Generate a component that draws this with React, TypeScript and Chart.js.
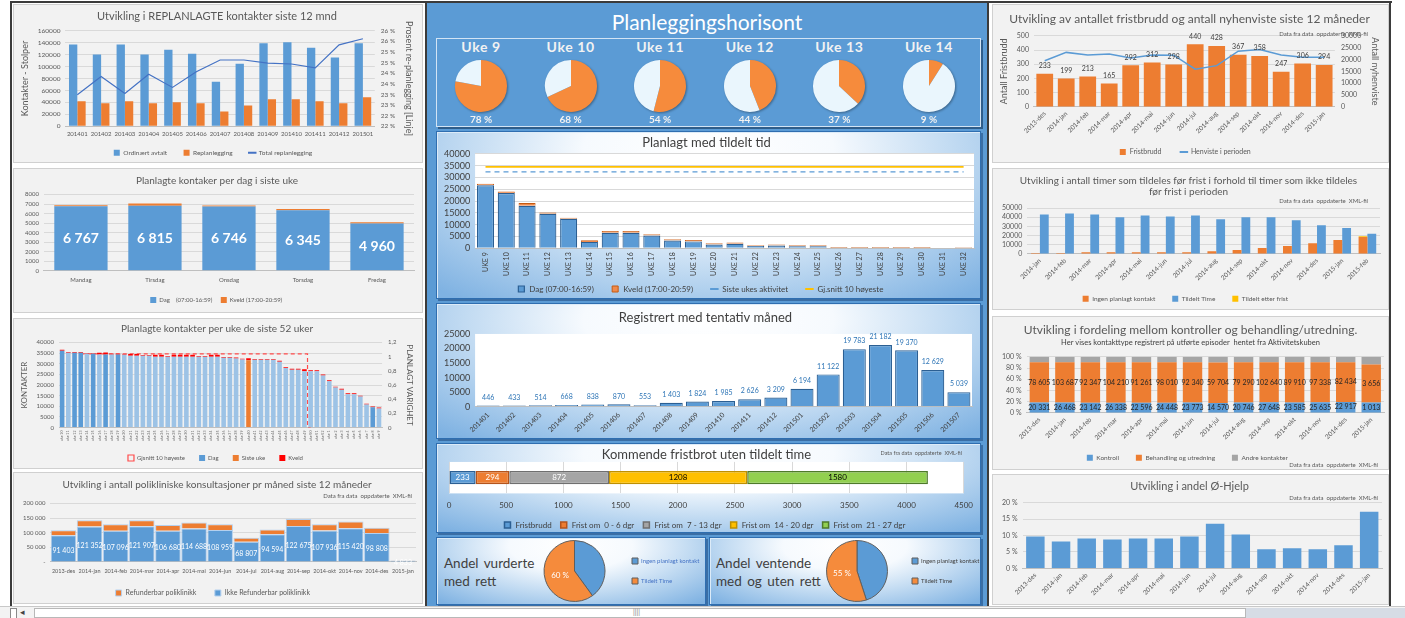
import React, { useEffect, useRef } from 'react';
import { Chart, registerables } from 'chart.js';

Chart.register(...registerables);

const FONT = 'Lato, "Open Sans", "DejaVu Sans", sans-serif';
(Chart.defaults as any).font.family = FONT;
(Chart.defaults as any).color = '#595959';
(Chart.defaults as any).animation = false;

// ---------------- DATA ----------------
// Left 1: replanlagte kontakter
const L1_MONTHS = ['201401', '201402', '201403', '201404', '201405', '201406', '201407', '201408', '201409', '201410', '201411', '201412', '201501'];
const L1_ORDINAERT = [137000, 120000, 137000, 120000, 128000, 121500, 74500, 104500, 139000, 140500, 131500, 115000, 139000];
const L1_REPLAN = [41800, 38400, 41800, 38400, 40100, 38400, 24900, 35000, 45200, 45200, 41800, 38400, 48600];
const L1_PROSENT = [22.98, 23.84, 23.04, 23.95, 23.33, 24.07, 24.62, 24.62, 24.47, 24.43, 24.25, 25.33, 25.62];

// Left 2: per dag siste uke
const L2_DAYS = ['Mandag', 'Tirsdag', 'Onsdag', 'Torsdag', 'Fredag'];
const L2_DAG = [6767, 6815, 6746, 6345, 4960];
const L2_KVELD = [100, 250, 100, 130, 130];

// Left 3: per uke siste 52 uker
const L3_WEEKS = ['uke 10', 'uke 11', 'uke 12', 'uke 13', 'uke 14', 'uke 15', 'uke 16', 'uke 17', 'uke 18', 'uke 19', 'uke 20', 'uke 21', 'uke 22', 'uke 23', 'uke 24', 'uke 25', 'uke 26', 'uke 27', 'uke 28', 'uke 29', 'uke 30', 'uke 31', 'uke 32', 'uke 33', 'uke 34', 'uke 35', 'uke 36', 'uke 37', 'uke 38', 'uke 39', 'uke 40', 'uke 41', 'uke 42', 'uke 43', 'uke 44', 'uke 45', 'uke 46', 'uke 47', 'uke 48', 'uke 49', 'uke 50', 'uke 51', 'uke 52', 'uke 1', 'uke 2', 'uke 3', 'uke 4', 'uke 5', 'uke 6', 'uke 7', 'uke 8', 'uke 9'];
const L3_DAG = [36100, 35200, 35200, 35200, 34700, 34700, 34400, 34400, 34400, 34400, 34200, 33750, 33750, 33750, 33750, 33300, 33300, 33300, 33300, 33300, 33300, 33300, 33300, 33300, 33300, 33300, 32800, 32800, 32500, 32000, 31700, 31900, 31900, 31900, 31900, 31000, 28000, 27200, 27200, 26500, 26500, 26500, 24500, 21800, 18800, 17800, 15700, 15700, 14600, 10800, 9500, 9000];
const L3_KVELD = [500, 300, 300, 300, 300, 300, 800, 900, 300, 300, 300, 900, 900, 400, 400, 900, 900, 400, 900, 900, 900, 900, 400, 400, 900, 900, 400, 400, 400, 400, 900, 400, 400, 400, 400, 400, 400, 400, 400, 900, 400, 400, 400, 400, 400, 400, 400, 400, 400, 400, 400, 400];
const L3_DARK = [0, 2, 3, 5, 7, 9, 50];
const L3_SISTE_UKE_INDEX = 30;
const L3_GJSNITT = [null, null, null, 1.04, 1.04, 1.04, 1.04, 1.04, 1.04, 1.04, 1.04, 1.04, 1.04, 1.04, 1.04, 1.04, 1.04, 1.04, 1.04, 1.04, 1.04, 1.04, 1.04, 1.04, 1.04, 1.04, 1.04, 1.04, 1.04, 1.04, 1.04, 1.04, 1.04, 1.04, 1.04, 1.04, 1.04, 1.04, 1.04, 1.04, 0, null, null, null, null, null, null, null, null, null, null, null];

// Left 4: polikliniske konsultasjoner
const MONTHS_14 = ['2013-des', '2014-jan', '2014-feb', '2014-mar', '2014-apr', '2014-mai', '2014-jun', '2014-jul', '2014-aug', '2014-sep', '2014-okt', '2014-nov', '2014-des', '2015-jan'];
const L4_IKKE_REF = [91403, 121352, 107096, 121907, 106680, 114688, 108959, 68807, 94594, 122675, 107936, 115420, 98808, 4833];
const L4_REF = [16600, 21600, 22000, 21000, 20000, 20000, 20000, 14000, 16400, 24000, 21000, 22600, 18000, 800];

// Middle: planleggingshorisont pies
const PIE_WEEKS = ['Uke 9', 'Uke 10', 'Uke 11', 'Uke 12', 'Uke 13', 'Uke 14'];
const PIE_PCT = [78, 68, 54, 44, 37, 9];

// Middle: planlagt med tildelt tid
const P5_WEEKS = ['UKE 9', 'UKE 10', 'UKE 11', 'UKE 12', 'UKE 13', 'UKE 14', 'UKE 15', 'UKE 16', 'UKE 17', 'UKE 18', 'UKE 19', 'UKE 20', 'UKE 21', 'UKE 22', 'UKE 23', 'UKE 24', 'UKE 25', 'UKE 26', 'UKE 27', 'UKE 28', 'UKE 29', 'UKE 30', 'UKE 31', 'UKE 32'];
const P5_DAG = [26700, 23400, 18000, 14600, 12500, 2700, 6600, 6600, 5400, 3300, 2900, 1600, 1900, 1000, 1150, 860, 860, 100, 100, 100, 100, 100, 0, 50];
const P5_KVELD = [700, 700, 1150, 570, 430, 700, 700, 700, 570, 570, 570, 570, 570, 300, 430, 430, 430, 300, 300, 300, 300, 300, 0, 300];
const P5_SISTE_UKES_AKTIVITET = 32400;
const P5_GJSNITT_10 = 34550;

// Middle: registrert med tentativ måned
const P6_MONTHS = ['201401', '201402', '201403', '201404', '201405', '201406', '201407', '201408', '201409', '201410', '201411', '201412', '201501', '201502', '201503', '201504', '201505', '201506', '201507'];
const P6_VALUES = [446, 433, 514, 668, 838, 870, 553, 1403, 1824, 1985, 2626, 3209, 6194, 11122, 19783, 21182, 19370, 12629, 5039];

// Middle: kommende fristbrot
const P7_CATEGORIES = ['Fristbrudd', 'Frist om  0 - 6 dgr', 'Frist om  7 - 13 dgr', 'Frist om  14 - 20 dgr', 'Frist om  21 - 27 dgr'];
const P7_VALUES = [233, 294, 872, 1208, 1580];

// Middle: andel pies
const P8_LABELS = ['Ingen planlagt kontakt', 'Tildelt Time'];
const P8_VALUES = [40, 60];
const P9_VALUES = [45, 55];

// Right 1: fristbrudd og nyhenviste
const R1_FRISTBRUDD = [233, 199, 213, 165, 292, 312, 298, 440, 428, 367, 358, 247, 306, 294];
const R1_HENVISTE = [19500, 23000, 21900, 22300, 20600, 21900, 21800, 15900, 17400, 23500, 24200, 21900, 20900, 20900];

// Right 2: timer tildelt før frist
const R2_MONTHS = ['2014-jan', '2014-feb', '2014-mar', '2014-apr', '2014-mai', '2014-jun', '2014-jul', '2014-aug', '2014-sep', '2014-okt', '2014-nov', '2014-des', '2015-jan', '2015-feb'];
const R2_INGEN = [1000, 1000, 1800, 1800, 1800, 1800, 1800, 2800, 4200, 6300, 8500, 11600, 15100, 18300];
const R2_TILDELT = [43000, 44000, 43000, 39800, 41900, 40800, 41900, 37700, 39800, 39800, 36600, 31300, 28200, 21800];
const R2_ETTER = [0, 0, 0, 0, 0, 0, 0, 0, 0, 0, 0, 0, 0, 1000];

// Right 3: kontroller vs behandling
const R3_KONTROLL = [20331, 26468, 23142, 26338, 22596, 24448, 23773, 14570, 20746, 27648, 23585, 25635, 22917, 1013];
const R3_BEHANDLING = [78605, 103687, 92347, 104210, 91261, 98010, 92340, 59704, 79290, 102640, 89910, 97338, 82434, 3656];
const R3_ANDRE = [10900, 14300, 12700, 14400, 12500, 13500, 12800, 8200, 11000, 14300, 12500, 13500, 11600, 750];

// Right 4: andel Ø-hjelp (%)
const R4_OHJELP = [9.7, 8.2, 9.1, 8.8, 9.1, 9.1, 9.7, 13.6, 10.3, 5.8, 6.1, 5.8, 7.0, 17.2];

// ---------------- STYLE ----------------
const BLUE = '#5b9bd5';
const ORANGE = '#ed7d31';
const GRAY = '#a5a5a5';
const YELLOW = '#ffc000';
const GREEN = '#92d050';
const LIGHTBLUE = '#9dc3e6';
const RED = '#ff0000';
const TXT = '#595959';
const GRID = '#d9d9d9';
const NOTE = 'Data fra data  oppdaterte  XML-fil';

const nb = (n: number) => String(Math.round(n)).replace(/\B(?=(\d{3})+(?!\d))/g, ' ');

// ---------------- PLUGINS ----------------
const plotBg = {
  id: 'plotBg',
  beforeDraw(chart: any, _a: any, opts: any) {
    if (!opts || !opts.color) return;
    const a = chart.chartArea;
    const ctx = chart.ctx;
    ctx.save();
    ctx.fillStyle = opts.color;
    ctx.fillRect(a.left, a.top, a.right - a.left, a.bottom - a.top);
    ctx.restore();
  },
};

const valueLabels = {
  id: 'valueLabels',
  afterDatasetsDraw(chart: any) {
    const ctx = chart.ctx;
    chart.data.datasets.forEach((ds: any, di: number) => {
      const cfg = ds.valueLabels;
      if (!cfg) return;
      const meta = chart.getDatasetMeta(di);
      if (!meta || meta.hidden) return;
      meta.data.forEach((el: any, i: number) => {
        if (cfg.only !== undefined && cfg.only !== i) return;
        const raw = cfg.values ? cfg.values[i] : ds.data[i];
        if (raw === null || raw === undefined) return;
        const text = cfg.format ? cfg.format(raw, i) : String(raw);
        if (!text) return;
        let x = 0;
        let y = 0;
        if (meta.type === 'pie' || meta.type === 'doughnut') {
          const p = el.tooltipPosition(true);
          x = p.x;
          y = p.y;
        } else {
          const p = el.getProps(['x', 'y', 'base'], true);
          if (chart.options.indexAxis === 'y') {
            x = (p.x + p.base) / 2;
            y = p.y;
          } else if (cfg.pos === 'top') {
            x = p.x;
            y = p.y - (cfg.offset ?? 6);
          } else {
            x = p.x;
            y = (p.y + p.base) / 2 + (cfg.dy ?? 0);
          }
        }
        ctx.save();
        ctx.font = cfg.font;
        ctx.fillStyle = cfg.color;
        ctx.textAlign = 'center';
        ctx.textBaseline = 'middle';
        ctx.fillText(text, x, y);
        ctx.restore();
      });
    });
  },
};

Chart.register(plotBg as any, valueLabels as any);

function legendLabels(size = 7, padding = 6, reverse = false, color = TXT, suffix = '  ') {
  return {
    usePointStyle: true,
    boxHeight: 6,
    padding,
    font: { size },
    color,
    generateLabels(chart: any) {
      const items = (Chart.defaults as any).plugins.legend.labels.generateLabels(chart);
      items.forEach((it: any) => {
        const ds: any = chart.data.datasets[it.datasetIndex];
        const st = ds.legendStyle || (ds.type === 'line' ? 'line' : 'rect');
        it.pointStyle = st;
        it.text = it.text + suffix;
        if (st === 'line') {
          it.strokeStyle = ds.borderColor;
          it.lineWidth = 2;
        }
      });
      items.sort((a: any, b: any) => (reverse ? b.datasetIndex - a.datasetIndex : a.datasetIndex - b.datasetIndex));
      return items;
    },
  };
}

const title = (text: any, size = 11, color = TXT, top = 6, bottom = 6) => ({
  display: true,
  text,
  font: { size, weight: 'normal', lineHeight: 1.15 },
  color,
  padding: { top, bottom },
});

const xAxis = (size = 7, rot = 0, color = TXT, pad = 4) => ({
  grid: { display: false, drawTicks: false },
  border: { color: '#bfbfbf' },
  ticks: { font: { size }, color, maxRotation: rot, minRotation: rot, autoSkip: false, padding: pad },
});

const yAxis = (min: number, max: number, step: number, fmt: any, size = 7, color = TXT, gridColor = GRID) => ({
  min,
  max,
  grid: { color: gridColor, drawTicks: false },
  border: { display: false },
  ticks: { stepSize: step, font: { size }, color, callback: fmt, padding: 5, autoSkip: false },
});

const base = (extra: any) => ({
  responsive: false,
  maintainAspectRatio: false,
  animation: false,
  events: [],
  ...extra,
});

const pad = (left: number, right: number, top: number, bottom: number) => ({ padding: { left, right, top, bottom } });

// ---------------- CHART CONFIGS ----------------
function cfgL1() {
  return {
    type: 'bar',
    data: {
      labels: L1_MONTHS,
      datasets: [
        { label: 'Ordinært avtalt', data: L1_ORDINAERT, backgroundColor: BLUE, yAxisID: 'y', order: 1, barPercentage: 1, categoryPercentage: 0.7 },
        { label: 'Replanlegging', data: L1_REPLAN, backgroundColor: ORANGE, yAxisID: 'y', order: 1, barPercentage: 1, categoryPercentage: 0.7 },
        { type: 'line', label: 'Total replanlegging', data: L1_PROSENT, yAxisID: 'y1', borderColor: '#4472c4', backgroundColor: '#4472c4', borderWidth: 1.2, pointRadius: 0, order: 0 },
      ],
    },
    options: base({
      layout: pad(4, 6, 0, -4),
      plugins: {
        title: title('Utvikling i REPLANLAGTE kontakter siste 12 mnd', 11, TXT, 5, 8),
        legend: { position: 'bottom', labels: legendLabels(6.5, 8, false, TXT, '     ') },
        tooltip: { enabled: false },
      },
      scales: {
        x: xAxis(6, 0, TXT, 4),
        y: {
          ...yAxis(0, 160000, 20000, (v: any) => String(v), 6.5),
          title: { display: true, text: 'Kontakter - Stolper', font: { size: 9 }, color: TXT, padding: 2 },
        },
        y1: {
          position: 'right',
          min: 21.5,
          max: 26,
          grid: { display: false, drawTicks: false },
          border: { display: false },
          ticks: { stepSize: 0.5, font: { size: 6.5 }, color: TXT, autoSkip: false, padding: 6, callback: (v: any) => Math.round(v) + ' %' },
          title: { display: true, text: 'Prosent re-planlegging [Linje]', font: { size: 9 }, color: TXT, padding: 2 },
        },
      },
    }),
  };
}

function cfgL2() {
  return {
    type: 'bar',
    data: {
      labels: L2_DAYS,
      datasets: [
        {
          label: 'Dag    (07:00-16:59)', data: L2_DAG, backgroundColor: BLUE, barPercentage: 1, categoryPercentage: 0.72,
          valueLabels: { pos: 'center', color: '#ffffff', font: `bold 14px ${FONT}`, format: nb },
        },
        { label: 'Kveld (17:00-20:59)', data: L2_KVELD, backgroundColor: ORANGE, barPercentage: 1, categoryPercentage: 0.72 },
      ],
    },
    options: base({
      layout: pad(6, 8, 0, -1),
      plugins: {
        title: title('Planlagte kontaker per dag i siste uke', 10, TXT, 6, 8),
        legend: { position: 'bottom', labels: legendLabels(6, 7, false, TXT, ' ') },
        tooltip: { enabled: false },
      },
      scales: {
        x: { ...xAxis(6, 0, TXT, 6), stacked: true },
        y: { ...yAxis(0, 8000, 1000, (v: any) => String(v), 6), stacked: true },
      },
    }),
  };
}

function cfgL3() {
  const dagColors = L3_DAG.map((_v, i) => (L3_DARK.includes(i) ? BLUE : LIGHTBLUE));
  return {
    type: 'bar',
    data: {
      labels: L3_WEEKS,
      datasets: [
        {
          type: 'line', label: 'Gjsnitt 10 høyeste', data: L3_GJSNITT, yAxisID: 'y1', stepped: 'middle',
          borderColor: '#ff4b4b', backgroundColor: 'rgba(0,0,0,0)', borderWidth: 1.2, borderDash: [4, 3], pointRadius: 0, order: 3,
          legendStyle: 'rect',
        },
        {
          label: 'Dag', data: L3_DAG.map((v, i) => (i === L3_SISTE_UKE_INDEX ? null : v)), backgroundColor: dagColors,
          yAxisID: 'y', order: 1, barPercentage: 0.78, categoryPercentage: 0.95,
        },
        {
          label: 'Siste uke', data: L3_DAG.map((v, i) => (i === L3_SISTE_UKE_INDEX ? v : null)), backgroundColor: ORANGE,
          yAxisID: 'y', order: 1, barPercentage: 0.78, categoryPercentage: 0.95,
        },
        { label: 'Kveld', data: L3_KVELD, backgroundColor: RED, yAxisID: 'y', order: 1, barPercentage: 0.78, categoryPercentage: 0.95 },
      ],
    },
    options: base({
      layout: pad(4, 6, 0, -3),
      plugins: {
        title: title('Planlagte kontakter per uke de siste 52 uker', 10, TXT, 4, 8),
        legend: { position: 'bottom', labels: legendLabels(6, 11, false, TXT, '  ') },
        tooltip: { enabled: false },
      },
      scales: {
        x: { ...xAxis(3.5, 90, TXT, 3), stacked: true },
        y: {
          ...yAxis(0, 40000, 5000, (v: any) => String(v), 6),
          stacked: true,
          title: { display: true, text: 'KONTAKTER', font: { size: 8 }, color: TXT, padding: 2 },
        },
        y1: {
          position: 'right',
          min: 0,
          max: 1.2,
          grid: { display: false, drawTicks: false },
          border: { display: false },
          ticks: { stepSize: 0.2, font: { size: 6 }, color: TXT, autoSkip: false, padding: 6, callback: (v: any) => String(Math.round(v * 10) / 10).replace('.', ',') },
          title: { display: true, text: 'PLANLAGT VARIGHET', font: { size: 8 }, color: TXT, padding: 2 },
        },
      },
    }),
  };
}

function cfgL4() {
  return {
    type: 'bar',
    data: {
      labels: MONTHS_14,
      datasets: [
        {
          label: 'Ikke Refunderbar poliklinikk', data: L4_IKKE_REF, backgroundColor: BLUE, borderColor: '#b4d0ee', borderWidth: 1,
          barPercentage: 1, categoryPercentage: 0.98,
          valueLabels: { pos: 'center', color: '#ffffff', font: `7px ${FONT}`, format: nb, dy: 2 },
        },
        {
          label: 'Refunderbar poliklinikk', data: L4_REF, backgroundColor: ORANGE, borderColor: '#b4d0ee', borderWidth: 1,
          barPercentage: 1, categoryPercentage: 0.98,
        },
      ],
    },
    options: base({
      layout: pad(4, 6, 0, -3.5),
      plugins: {
        title: title('Utvikling i antall polikliniske konsultasjoner pr måned siste 12 måneder', 10, TXT, 6, 13),
        legend: { position: 'bottom', labels: legendLabels(7, 9, true, TXT, '     ') },
        tooltip: { enabled: false },
      },
      scales: {
        x: { ...xAxis(5.5, 0, TXT, 6), stacked: true },
        y: { ...yAxis(0, 200000, 50000, (v: any) => (v === 0 ? '-' : nb(v)), 6), stacked: true },
      },
    }),
  };
}

function cfgSmallPie(pct: number) {
  return {
    type: 'pie',
    data: {
      labels: ['Planlagt', 'Ikke planlagt'],
      datasets: [{ data: [pct, 100 - pct], backgroundColor: ['#f68b3c', '#eaf6fd'], borderWidth: 0 }],
    },
    options: base({
      layout: { padding: 2 },
      plugins: { legend: { display: false }, title: { display: false }, tooltip: { enabled: false } },
    }),
  };
}

function cfgP5() {
  return {
    type: 'bar',
    data: {
      labels: P5_WEEKS,
      datasets: [
        { label: 'Dag (07:00-16:59)', data: P5_DAG, backgroundColor: BLUE, borderColor: '#2b5f93', borderWidth: 1.2, barPercentage: 0.82, categoryPercentage: 1, order: 1 },
        { label: 'Kveld (17:00-20:59)', data: P5_KVELD, backgroundColor: '#f08a4b', borderColor: '#c55a11', borderWidth: 1, barPercentage: 0.82, categoryPercentage: 1, order: 1 },
        {
          type: 'line', label: 'Siste ukes aktivitet', data: P5_WEEKS.map(() => P5_SISTE_UKES_AKTIVITET), yAxisID: 'y2',
          borderColor: '#5b9bd5', backgroundColor: '#5b9bd5', borderDash: [5, 4], borderWidth: 1.2, pointRadius: 0, order: 0,
        },
        {
          type: 'line', label: 'Gj.snitt 10 høyeste', data: P5_WEEKS.map(() => P5_GJSNITT_10), yAxisID: 'y2',
          borderColor: YELLOW, backgroundColor: YELLOW, borderWidth: 1.8, pointRadius: 0, order: 0,
        },
      ],
    },
    options: base({
      layout: pad(2, 6, 0, -5),
      plugins: {
        plotBg: { color: '#ffffff' },
        title: title('Planlagt med tildelt tid', 13, '#404040', 3, 4),
        legend: { position: 'bottom', labels: legendLabels(8, 5, false, '#404040', '      ') },
        tooltip: { enabled: false },
      },
      scales: {
        x: { ...xAxis(7, 90, '#404040', 4), stacked: true },
        y: { ...yAxis(0, 40000, 5000, (v: any) => String(v), 9, '#404040'), stacked: true },
        y2: { display: false, min: 0, max: 40000, stacked: false },
      },
    }),
  };
}

function cfgP6() {
  return {
    type: 'bar',
    data: {
      labels: P6_MONTHS,
      datasets: [
        {
          label: 'Registrert', data: P6_VALUES, backgroundColor: BLUE, borderColor: '#2b5f93', borderWidth: 1.2,
          barPercentage: 0.88, categoryPercentage: 1,
          valueLabels: { pos: 'top', color: '#2e75b6', font: `7px ${FONT}`, format: nb, offset: 8 },
        },
      ],
    },
    options: base({
      layout: pad(2, 8, 0, 0),
      plugins: {
        plotBg: { color: '#ffffff' },
        title: title('Registrert med tentativ måned', 13, '#404040', 6, 9),
        legend: { display: false },
        tooltip: { enabled: false },
      },
      scales: {
        x: xAxis(7, 45, '#404040', 4),
        y: { ...yAxis(0, 25000, 5000, (v: any) => String(v), 9, '#404040', 'rgba(0,0,0,0)') },
      },
    }),
  };
}

function cfgP7() {
  const colors = [BLUE, ORANGE, GRAY, YELLOW, GREEN];
  const borders = ['#2b5f93', '#b4541c', '#6f6f6f', '#bf9000', '#4e7a2a'];
  const txt = ['#ffffff', '#ffffff', '#ffffff', '#000000', '#000000'];
  return {
    type: 'bar',
    data: {
      labels: [''],
      datasets: P7_CATEGORIES.map((c, i) => ({
        label: c,
        data: [P7_VALUES[i]],
        backgroundColor: colors[i],
        borderColor: borders[i],
        borderWidth: 1.5,
        borderSkipped: false,
        barPercentage: 1,
        categoryPercentage: 0.42,
        valueLabels: { color: txt[i], font: `8px ${FONT}`, format: (v: any) => String(v) },
      })),
    },
    options: base({
      indexAxis: 'y',
      layout: pad(12, 16, 0, -7),
      plugins: {
        plotBg: { color: '#ffffff' },
        title: title('Kommende fristbrot uten tildelt time', 13, '#404040', 3, 0),
        legend: { position: 'bottom', labels: legendLabels(8, 4, false, '#404040', '  ') },
        tooltip: { enabled: false },
      },
      scales: {
        x: {
          stacked: true,
          min: 0,
          max: 4500,
          grid: { color: GRID, drawTicks: false },
          border: { display: false },
          ticks: { stepSize: 500, font: { size: 8 }, color: '#404040', padding: 7, callback: (v: any) => String(v) },
        },
        y: { stacked: true, display: false },
      },
    }),
  };
}

function cfgAndelPie(values: number[], legendColor: string) {
  return {
    type: 'pie',
    data: {
      labels: P8_LABELS,
      datasets: [
        {
          data: values,
          backgroundColor: [BLUE, '#f58b3c'],
          borderColor: '#5f5f5f',
          borderWidth: 1,
          valueLabels: { only: 1, color: '#ffffff', font: `8px ${FONT}`, format: (v: any) => v + ' %' },
        },
      ],
    },
    options: base({
      layout: { padding: { left: 0, right: 0, top: 2, bottom: 2 } },
      plugins: {
        legend: { position: 'right', labels: { boxWidth: 6, boxHeight: 6, padding: 14, font: { size: 6 }, color: legendColor } },
        title: { display: false },
        tooltip: { enabled: false },
      },
    }),
  };
}

function cfgR1() {
  return {
    type: 'bar',
    data: {
      labels: MONTHS_14,
      datasets: [
        {
          label: 'Fristbrudd', data: R1_FRISTBRUDD, backgroundColor: ORANGE, yAxisID: 'y', order: 1,
          barPercentage: 1, categoryPercentage: 0.78,
          valueLabels: { pos: 'top', color: '#404040', font: `7px ${FONT}`, format: (v: any) => String(v), offset: 8 },
        },
        {
          type: 'line', label: 'Henviste i perioden', data: R1_HENVISTE, yAxisID: 'y1', borderColor: BLUE, backgroundColor: BLUE,
          borderWidth: 1.5, pointRadius: 0, order: 0,
        },
      ],
    },
    options: base({
      layout: pad(4, 6, 0, -3.5),
      plugins: {
        title: title('Utvikling av antallet fristbrudd og antall nyhenviste siste 12 måneder', 12, TXT, 7, 10),
        legend: { position: 'bottom', labels: legendLabels(7, 10, false, TXT, '     ') },
        tooltip: { enabled: false },
      },
      scales: {
        x: xAxis(6.5, 45, TXT, 3),
        y: {
          ...yAxis(0, 500, 100, (v: any) => String(v), 7),
          title: { display: true, text: 'Antall Fristbrudd', font: { size: 9 }, color: TXT, padding: 2 },
        },
        y1: {
          position: 'right',
          min: 0,
          max: 30000,
          grid: { display: false, drawTicks: false },
          border: { display: false },
          ticks: { stepSize: 5000, font: { size: 7 }, color: TXT, autoSkip: false, padding: 6, callback: (v: any) => String(v) },
          title: { display: true, text: 'Antall nyhenviste', font: { size: 9 }, color: TXT, padding: 2 },
        },
      },
    }),
  };
}

function cfgR2() {
  return {
    type: 'bar',
    data: {
      labels: R2_MONTHS,
      datasets: [
        { label: 'Ingen planlagt kontakt', data: R2_INGEN, backgroundColor: ORANGE, stack: 'a', barPercentage: 1, categoryPercentage: 0.7 },
        { label: 'Tildelt Time', data: R2_TILDELT, backgroundColor: BLUE, stack: 'b', barPercentage: 1, categoryPercentage: 0.7 },
        { label: 'Tildelt etter frist', data: R2_ETTER, backgroundColor: YELLOW, stack: 'a', barPercentage: 1, categoryPercentage: 0.7 },
      ],
    },
    options: base({
      layout: pad(4, 8, 0, -3),
      plugins: {
        title: title(['Utvikling i antall timer som tildeles før frist i forhold til timer som ikke tildeles', 'før frist i perioden'], 10, TXT, 6, 10),
        legend: { position: 'bottom', labels: legendLabels(6.5, 10, false, TXT, '    ') },
        tooltip: { enabled: false },
      },
      scales: {
        x: { ...xAxis(6.5, 45, TXT, 3), stacked: true },
        y: { ...yAxis(0, 50000, 10000, (v: any) => String(v), 7), stacked: true },
      },
    }),
  };
}

function cfgR3() {
  const tot = R3_KONTROLL.map((v, i) => v + R3_BEHANDLING[i] + R3_ANDRE[i]);
  const lbl = { pos: 'center', color: '#262626', font: `7px ${FONT}`, format: nb };
  return {
    type: 'bar',
    data: {
      labels: MONTHS_14,
      datasets: [
        {
          label: 'Kontroll', data: R3_KONTROLL.map((v, i) => (v / tot[i]) * 100), backgroundColor: BLUE,
          barPercentage: 1, categoryPercentage: 0.76, valueLabels: { ...lbl, values: R3_KONTROLL },
        },
        {
          label: 'Behandling og utredning', data: R3_BEHANDLING.map((v, i) => (v / tot[i]) * 100), backgroundColor: ORANGE,
          barPercentage: 1, categoryPercentage: 0.76, valueLabels: { ...lbl, values: R3_BEHANDLING },
        },
        {
          label: 'Andre kontakter', data: R3_ANDRE.map((v, i) => (v / tot[i]) * 100), backgroundColor: GRAY,
          barPercentage: 1, categoryPercentage: 0.76,
        },
      ],
    },
    options: base({
      layout: pad(4, 4, 0, -2),
      plugins: {
        title: title('Utvikling i fordeling mellom kontroller og behandling/utredning.', 12, TXT, 6, 1),
        subtitle: {
          display: true,
          text: 'Her vises kontakttype registrert på utførte episoder  hentet fra Aktivitetskuben',
          font: { size: 7.5 },
          color: '#404040',
          padding: { top: 0, bottom: 10 },
        },
        legend: { position: 'bottom', labels: legendLabels(6.5, 10, false, TXT, '    ') },
        tooltip: { enabled: false },
      },
      scales: {
        x: { ...xAxis(6.5, 45, TXT, 3), stacked: true },
        y: { ...yAxis(0, 100, 20, (v: any) => v + ' %', 7), stacked: true },
      },
    }),
  };
}

function cfgR4() {
  return {
    type: 'bar',
    data: {
      labels: MONTHS_14,
      datasets: [{ label: 'Andel Ø-Hjelp', data: R4_OHJELP, backgroundColor: BLUE, barPercentage: 1, categoryPercentage: 0.72 }],
    },
    options: base({
      layout: pad(4, 6, 0, 4),
      plugins: {
        title: title('Utvikling i andel Ø-Hjelp', 11, TXT, 5, 10),
        legend: { display: false },
        tooltip: { enabled: false },
      },
      scales: {
        x: xAxis(6.5, 45, TXT, 3),
        y: yAxis(0, 20, 5, (v: any) => v + ' %', 7),
      },
    }),
  };
}

// ---------------- COMPONENTS ----------------
function ChartCanvas({ left, top, width, height, make, style }: any) {
  const ref = useRef<HTMLCanvasElement>(null);
  useEffect(() => {
    const chart = new Chart(ref.current as HTMLCanvasElement, make());
    return () => chart.destroy();
  }, []);
  return (
    <canvas
      ref={ref}
      width={width}
      height={height}
      style={{ position: 'absolute', left, top, width, height, display: 'block', ...(style || {}) }}
    />
  );
}

function Panel({ left, top, width, height, children, kind = 'gray' }: any) {
  const st: any =
    kind === 'gray'
      ? { background: '#f2f2f2', border: '1px solid #d0d0d0' }
      : {
          background: 'radial-gradient(ellipse 72% 115% at 50% 12%, #ffffff 0%, #f6fafe 32%, #c2dbf2 62%, #7fb2e2 100%)',
          border: '1px solid #2f6eb0',
          boxShadow: 'inset 1px 1px 0 #dcebf8, 2px 2px 0 #3a6ea5',
        };
  return (
    <div style={{ position: 'absolute', left, top, width, height, boxSizing: 'border-box', overflow: 'hidden', ...st }}>
      {children}
    </div>
  );
}

function GrayChart({ left, top, width, height, make, note }: any) {
  return (
    <Panel left={left} top={top} width={width} height={height}>
      <ChartCanvas left={0} top={0} width={width - 2} height={height - 2} make={make} />
      {note ? (
        <div
          style={{
            position: 'absolute', left: 0, width: width - 2 - note.right, top: note.top, textAlign: 'right',
            fontSize: 6, color: TXT, lineHeight: '7px', whiteSpace: 'pre',
          }}
        >
          {NOTE}
        </div>
      ) : null}
    </Panel>
  );
}

export default function App() {
  useEffect(() => {
    document.body.style.margin = '0';
  }, []);
  const dark = '#3b3b3b';
  return (
    <div
      style={{
        position: 'fixed', left: 0, top: 0, width: 1405, height: 618, background: '#ffffff', overflow: 'hidden', fontFamily: FONT,
      }}
    >
      {/* frame lines */}
      <div style={{ position: 'absolute', left: 10, top: 1, width: 1382, height: 2, background: dark }} />
      <div style={{ position: 'absolute', left: 10, top: 1, width: 2, height: 605, background: dark }} />
      <div style={{ position: 'absolute', left: 1389, top: 1, width: 2, height: 605, background: dark }} />

      {/* LEFT COLUMN */}
      <GrayChart left={13} top={4} width={410} height={159} make={cfgL1} />
      <GrayChart left={13} top={168} width={410} height={145} make={cfgL2} />
      <GrayChart left={13} top={318} width={410} height={151} make={cfgL3} />
      <GrayChart left={13} top={472} width={410} height={132} make={cfgL4} note={{ top: 19, right: 10 }} />

      {/* MIDDLE COLUMN */}
      <div
        style={{
          position: 'absolute', left: 425, top: 1, width: 564, height: 605, background: '#5b9bd5', boxSizing: 'border-box',
          borderLeft: `2px solid ${dark}`, borderRight: `2px solid ${dark}`, borderTop: `2px solid ${dark}`,
        }}
      />
      <div
        style={{
          position: 'absolute', left: 427, top: 8, width: 560, textAlign: 'center', color: '#ffffff', fontSize: 21, lineHeight: '28px',
        }}
      >
        Planleggingshorisont
      </div>
      <div
        style={{
          position: 'absolute', left: 436, top: 38, width: 545, height: 89, boxSizing: 'border-box',
          border: '1px solid #d2e4f5', boxShadow: '2px 2px 0 #2f5d8a',
        }}
      />
      {PIE_WEEKS.map((w, i) => {
        const cx = 481 + i * 89.6;
        return (
          <React.Fragment key={w}>
            <div
              style={{
                position: 'absolute', left: cx - 40, top: 39, width: 80, textAlign: 'center', color: '#f2f2f2', fontSize: 14,
                fontWeight: 700, lineHeight: '16px', letterSpacing: 0.6,
              }}
            >
              {w}
            </div>
            <ChartCanvas
              left={Math.round(cx - 28)}
              top={58}
              width={56}
              height={56}
              make={() => cfgSmallPie(PIE_PCT[i])}
              style={{ filter: 'drop-shadow(1px 1px 1px rgba(0,0,0,0.35))' }}
            />
            <div
              style={{
                position: 'absolute', left: cx - 30, top: 113, width: 60, textAlign: 'center', color: '#f2f2f2', fontSize: 10,
                fontWeight: 700, lineHeight: '12px',
              }}
            >
              {PIE_PCT[i]} %
            </div>
          </React.Fragment>
        );
      })}

      <Panel left={436} top={131} width={545} height={168} kind="grad">
        <ChartCanvas left={0} top={0} width={543} height={166} make={cfgP5} />
      </Panel>
      <Panel left={436} top={303} width={545} height={136} kind="grad">
        <ChartCanvas left={0} top={0} width={543} height={134} make={cfgP6} />
      </Panel>
      <Panel left={436} top={443} width={545} height={90} kind="grad">
        <ChartCanvas left={0} top={0} width={543} height={88} make={cfgP7} />
        <div
          style={{
            position: 'absolute', left: 0, width: 525, top: 6, textAlign: 'right', fontSize: 5.5, color: TXT, lineHeight: '7px', whiteSpace: 'pre',
          }}
        >
          {NOTE}
        </div>
      </Panel>
      <Panel left={436} top={537} width={270} height={68} kind="grad">
        <div style={{ position: 'absolute', left: 7, top: 16, fontSize: 13.5, lineHeight: '18px', color: '#404040', wordSpacing: 2 }}>
          Andel vurderte
          <br />
          med rett
        </div>
        <ChartCanvas left={94} top={0} width={174} height={66} make={() => cfgAndelPie(P8_VALUES, '#4472c4')} />
      </Panel>
      <Panel left={709} top={537} width={272} height={68} kind="grad">
        <div style={{ position: 'absolute', left: 6, top: 16, fontSize: 13.5, lineHeight: '18px', color: '#404040', wordSpacing: 2 }}>
          Andel ventende
          <br />
          med og uten rett
        </div>
        <ChartCanvas left={106} top={0} width={164} height={66} make={() => cfgAndelPie(P9_VALUES, '#404040')} />
      </Panel>

      {/* RIGHT COLUMN */}
      <GrayChart left={992} top={4} width={397} height={159} make={cfgR1} note={{ top: 25, right: 20 }} />
      <GrayChart left={992} top={168} width={397} height={142} make={cfgR2} note={{ top: 28, right: 20 }} />
      <GrayChart left={992} top={316} width={397} height={154} make={cfgR3} note={{ top: 144, right: 10 }} />
      <GrayChart left={992} top={474} width={397} height={131} make={cfgR4} note={{ top: 19, right: 10 }} />

      {/* bottom scroll strip */}
      <div style={{ position: 'absolute', left: 0, top: 606, width: 1405, height: 12, background: '#f3f3f3', borderTop: '1px solid #c8c8c8' }} />
      <div style={{ position: 'absolute', left: 10, top: 608, width: 5, height: 9, border: '1px solid #8a8a8a', background: '#ffffff' }} />
      <div style={{ position: 'absolute', left: 20, top: 606, fontSize: 9, color: '#444', lineHeight: '12px' }}>◂</div>
      <div style={{ position: 'absolute', left: 34, top: 608, width: 1212, height: 10, background: '#ffffff', border: '1px solid #b8b8b8', boxSizing: 'border-box' }} />
      <div style={{ position: 'absolute', left: 1246, top: 608, width: 159, height: 10, background: '#d6dce5' }} />
      <div style={{ position: 'absolute', left: 633, top: 607, fontSize: 7, color: '#777', lineHeight: '10px' }}>||||</div>
    </div>
  );
}
